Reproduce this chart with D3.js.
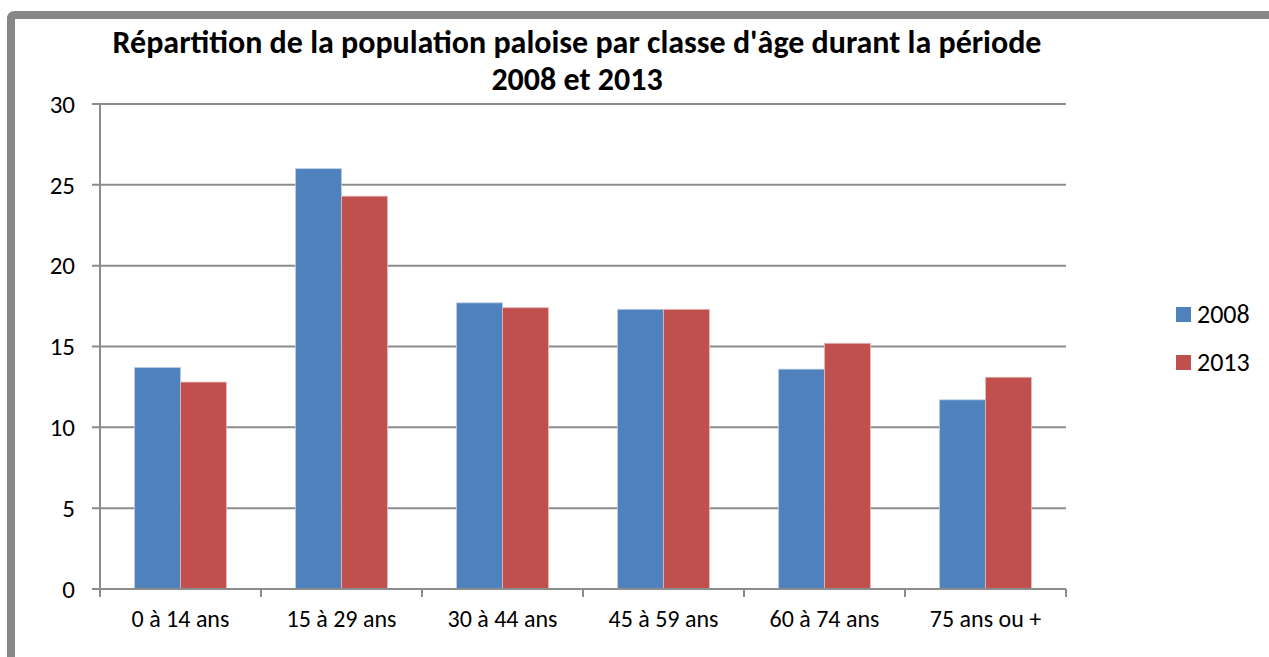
<!DOCTYPE html>
<html>
<head>
<meta charset="utf-8">
<script src="https://cdn.jsdelivr.net/npm/d3@7"></script>
<style>
  body { margin: 0; background: #fff; }
  svg text { font-family: Carlito, Calibri, "Liberation Sans Narrow", "Open Sans", sans-serif; fill: #000; }
</style>
</head>
<body>
<svg id="chart" width="1269" height="657"></svg>
<script>
// data
var categories = ["0 à 14 ans", "15 à 29 ans", "30 à 44 ans", "45 à 59 ans", "60 à 74 ans", "75 ans ou +"];
var seriesNames = ["2008", "2013"];
var values2008 = [13.7, 26.0, 17.7, 17.3, 13.6, 11.7];
var values2013 = [12.8, 24.3, 17.4, 17.3, 15.2, 13.1];
var yTicks = [0, 5, 10, 15, 20, 25, 30];
var colors = ["#4f81bd", "#c0504d"];
var edges = ["#b9cde5", "#e6b9b8"];

var svg = d3.select("#chart");
var plot = { left: 100, right: 1066, top: 104, bottom: 589 };

// frame
svg.append("path")
  .attr("d", "M11,657 L11,19 Q11,15 15,15 L1269,15")
  .attr("fill", "none")
  .attr("stroke", "#878787")
  .attr("stroke-width", 8);

// title
var title = svg.append("text")
  .attr("text-anchor", "middle")
  .attr("font-weight", "bold")
  .attr("font-size", 32);
title.append("tspan").attr("x", 577).attr("y", 53).text("Répartition de la population paloise par classe d'âge durant la période");
title.append("tspan").attr("x", 577).attr("y", 90).text("2008 et 2013");

var x = d3.scaleBand()
  .domain(categories)
  .range([plot.left, plot.right])
  .paddingInner(0.43)
  .paddingOuter(0.215);

var xSub = d3.scaleBand()
  .domain(seriesNames)
  .range([0, x.bandwidth()]);

var y = d3.scaleLinear()
  .domain([0, 30])
  .range([plot.bottom, plot.top]);

// gridlines
svg.append("g")
  .selectAll("line")
  .data(yTicks)
  .enter().append("line")
  .attr("x1", plot.left - 8)
  .attr("x2", plot.right)
  .attr("y1", function(d) { return y(d); })
  .attr("y2", function(d) { return y(d); })
  .attr("stroke", "#8c8c8c")
  .attr("stroke-width", 2);

// y labels
svg.append("g")
  .selectAll("text")
  .data(yTicks)
  .enter().append("text")
  .attr("x", 75)
  .attr("y", function(d) { return y(d); })
  .attr("dy", "0.35em")
  .attr("text-anchor", "end")
  .attr("font-size", 25)
  .text(function(d) { return d; });

// bars
var rows = categories.map(function(c, i) {
  return { cat: c, vals: [values2008[i], values2013[i]] };
});

var groups = svg.append("g")
  .selectAll("g")
  .data(rows)
  .enter().append("g")
  .attr("transform", function(d) { return "translate(" + x(d.cat) + ",0)"; });

groups.selectAll("rect")
  .data(function(d) { return d.vals.map(function(v, j) { return { s: seriesNames[j], v: v, j: j }; }); })
  .enter().append("rect")
  .attr("x", function(d) { return xSub(d.s); })
  .attr("width", xSub.bandwidth())
  .attr("y", function(d) { return y(d.v); })
  .attr("height", function(d) { return y(0) - y(d.v); })
  .attr("fill", function(d) { return colors[d.j]; })
  .attr("stroke", function(d) { return edges[d.j]; })
  .attr("stroke-width", 0.8);

// y axis line
svg.append("line")
  .attr("x1", plot.left).attr("x2", plot.left)
  .attr("y1", plot.top).attr("y2", plot.bottom)
  .attr("stroke", "#8c8c8c")
  .attr("stroke-width", 2);

// x axis line + ticks
svg.append("line")
  .attr("x1", plot.left).attr("x2", plot.right)
  .attr("y1", plot.bottom).attr("y2", plot.bottom)
  .attr("stroke", "#8c8c8c")
  .attr("stroke-width", 2);

var step = (plot.right - plot.left) / categories.length;
svg.append("g")
  .selectAll("line")
  .data(d3.range(categories.length + 1))
  .enter().append("line")
  .attr("x1", function(i) { return plot.left + i * step; })
  .attr("x2", function(i) { return plot.left + i * step; })
  .attr("y1", plot.bottom)
  .attr("y2", plot.bottom + 8)
  .attr("stroke", "#8c8c8c")
  .attr("stroke-width", 2);

// x labels
svg.append("g")
  .selectAll("text")
  .data(categories)
  .enter().append("text")
  .attr("x", function(d) { return x(d) + x.bandwidth() / 2; })
  .attr("y", 627)
  .attr("text-anchor", "middle")
  .attr("font-size", 24)
  .text(function(d) { return d; });

// legend
var legend = svg.append("g")
  .selectAll("g")
  .data(seriesNames)
  .enter().append("g")
  .attr("transform", function(d, i) { return "translate(1176," + (307 + i * 48) + ")"; });

legend.append("rect")
  .attr("width", 15)
  .attr("height", 15)
  .attr("fill", function(d, i) { return colors[i]; });

legend.append("text")
  .attr("x", 21)
  .attr("y", 16)
  .attr("font-size", 26)
  .text(function(d) { return d; });
</script>
</body>
</html>
